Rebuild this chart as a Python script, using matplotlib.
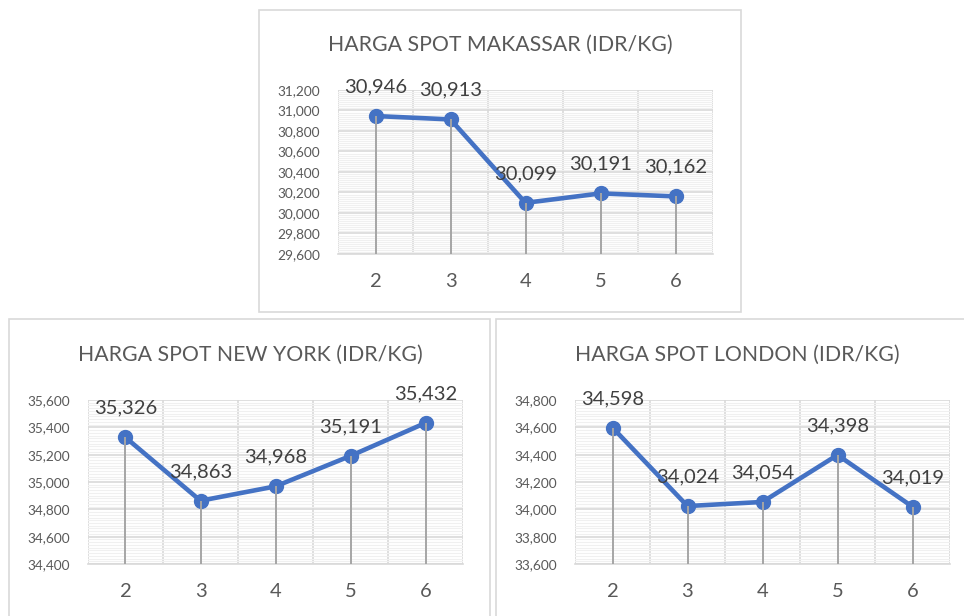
import numpy as np
import matplotlib.pyplot as plt
from matplotlib.patches import Rectangle
from matplotlib.ticker import MultipleLocator, FuncFormatter

# data
minggu = [2, 3, 4, 5, 6]
makassar = [30946, 30913, 30099, 30191, 30162]
new_york = [35326, 34863, 34968, 35191, 35432]
london = [34598, 34024, 34054, 34398, 34019]

plt.rcParams['font.family'] = ['Lato', 'DejaVu Sans']

W, H = 964, 616
fig = plt.figure(figsize=(W / 100, H / 100), dpi=100)

abu = '#595959'
biru = '#4472C4'


def kotak(x0, y0, x1, y1):
    # bingkai grafik (koordinat piksel)
    fig.patches.append(Rectangle((x0 / W, 1 - y1 / H), (x1 - x0) / W, (y1 - y0) / H,
                                 transform=fig.transFigure, fill=False,
                                 edgecolor='#d9d9d9', linewidth=1.2))


def grafik(px, py, judul, nilai, ymin, ymax, tx, ty):
    ax = fig.add_axes([px / W, 1 - (py + 164) / H, 375 / W, 164 / H])
    ax.set_xlim(1.5, 6.5)
    ax.set_ylim(ymin, ymax)
    ax.yaxis.set_major_locator(MultipleLocator(200))
    ax.yaxis.set_minor_locator(MultipleLocator(20))
    ax.yaxis.set_major_formatter(FuncFormatter(lambda v, p: f'{int(v):,}'))
    ax.set_xticks(minggu)
    ax.set_xticks(np.arange(1.5, 7, 1), minor=True)
    ax.grid(which='minor', axis='y', color='#f0f0f0', linewidth=0.8)
    ax.grid(which='major', axis='y', color='#d9d9d9', linewidth=1.2)
    ax.grid(which='minor', axis='x', color='#d9d9d9', linewidth=1.2)
    ax.set_axisbelow(True)
    for s in ax.spines.values():
        s.set_visible(False)
    ax.spines['bottom'].set_visible(True)
    ax.spines['bottom'].set_color('#d9d9d9')
    ax.spines['bottom'].set_linewidth(1.2)
    ax.tick_params(which='both', length=0)
    ax.tick_params(axis='y', labelsize=9.8, labelcolor=abu, pad=13)
    ax.tick_params(axis='x', labelsize=14.5, labelcolor=abu, pad=14)
    ax.plot(minggu, nilai, color=biru, linewidth=3.3, marker='o', markersize=10, zorder=3)
    # garis jatuh
    ax.vlines(minggu, ymin, nilai, color='#a5a5a5', linewidth=1.4, zorder=4)
    for x, v in zip(minggu, nilai):
        ax.annotate(f'{v:,}', (x, v), xytext=(0, 21), textcoords='offset points',
                    ha='center', va='center', fontsize=14.5, color='#404040',
                    annotation_clip=False, zorder=5)
    fig.text(tx / W, 1 - ty / H, judul, ha='center', va='center', fontsize=15.3, color=abu)
    return ax


kotak(259, 10, 741, 312)
kotak(9, 319, 490, 640)
kotak(496, 319, 990, 640)

grafik(338, 90, 'HARGA SPOT MAKASSAR (IDR/KG)', makassar, 29600, 31200, 500, 45)
grafik(88, 400, 'HARGA SPOT NEW YORK (IDR/KG)', new_york, 34400, 35600, 250, 355)
grafik(575, 400, 'HARGA SPOT LONDON (IDR/KG)', london, 33600, 34800, 737, 355)

fig.savefig('out.png', dpi=100)
